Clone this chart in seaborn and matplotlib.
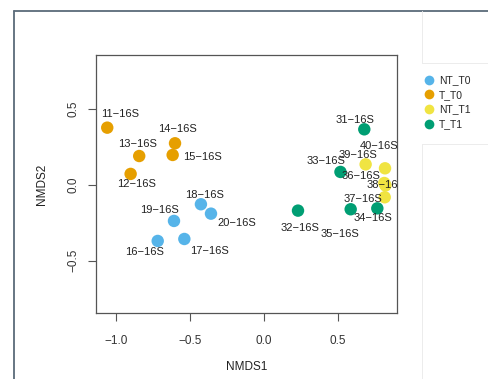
import matplotlib
matplotlib.use("Agg")
import matplotlib.pyplot as plt
from matplotlib.lines import Line2D
import seaborn as sns
import pandas as pd

# NMDS site scores
samples = ["11-16S", "12-16S", "13-16S", "14-16S", "15-16S",
           "16-16S", "17-16S", "18-16S", "19-16S", "20-16S",
           "31-16S", "32-16S", "33-16S", "34-16S", "35-16S",
           "36-16S", "37-16S", "38-16S", "39-16S", "40-16S"]
groups = ["T_T0"] * 5 + ["NT_T0"] * 5 + ["T_T1"] * 5 + ["NT_T1"] * 5
nmds1 = [-1.057, -0.899, -0.841, -0.599, -0.615,
         -0.716, -0.536, -0.424, -0.606, -0.356,
         0.680, 0.232, 0.519, 0.768, 0.588,
         0.815, 0.818, 0.823, 0.689, 0.820]
nmds2 = [0.377, 0.072, 0.190, 0.274, 0.197,
         -0.370, -0.357, -0.128, -0.238, -0.190,
         0.366, -0.170, 0.085, -0.155, -0.161,
         0.012, -0.082, -0.004, 0.135, 0.109]
group_order = ["NT_T0", "T_T0", "NT_T1", "T_T1"]
group_colors = ["#56B4E9", "#E69F00", "#F0E442", "#009E73"]

# label placement relative to each point, in pixels (x right, y down)
label_offsets = {
    "11-16S": (13, -14), "12-16S": (6, 10), "13-16S": (-2, -12),
    "14-16S": (2, -14), "15-16S": (30, 2), "16-16S": (-13, 11),
    "17-16S": (25, 12), "18-16S": (4, -9), "19-16S": (-15, -11),
    "20-16S": (26, 9), "31-16S": (-9, -9), "32-16S": (2, 17),
    "33-16S": (-14, -11), "34-16S": (-4, 10), "35-16S": (-11, 25),
    "36-16S": (-23, -7), "37-16S": (-22, 2), "38-16S": (1, 0),
    "39-16S": (-8, -9), "40-16S": (-6, -22),
}

df = pd.DataFrame({"sample": samples, "group": groups,
                   "NMDS1": nmds1, "NMDS2": nmds2})

sns.set_style("white")
plt.rcParams["font.family"] = ["Liberation Sans", "DejaVu Sans"]

W, H = 488, 379
fig = plt.figure(figsize=(W / 100, H / 100), dpi=100)
fig.patch.set_facecolor("white")

# window frame lines
fig.add_artist(Line2D([14 / W, 1], [1 - 11 / H] * 2, color="#5b6b7a", lw=1.3))
fig.add_artist(Line2D([14 / W] * 2, [0, 1 - 11 / H], color="#5b6b7a", lw=1.3))
light = "#ececec"
fig.add_artist(Line2D([422 / W] * 2, [1 - 11 / H, 1 - 63 / H], color=light, lw=0.7))
fig.add_artist(Line2D([422 / W, 1], [1 - 63 / H] * 2, color=light, lw=0.7))
fig.add_artist(Line2D([422 / W] * 2, [1 - 144 / H, 0], color=light, lw=0.7))
fig.add_artist(Line2D([422 / W, 1], [1 - 144 / H] * 2, color=light, lw=0.7))

left, right, top, bottom = 96, 397, 55, 313
ax = fig.add_axes([left / W, 1 - bottom / H, (right - left) / W, (bottom - top) / H])

sns.scatterplot(data=df, x="NMDS1", y="NMDS2", hue="group",
                hue_order=group_order, palette=group_colors,
                s=80, linewidth=0, ax=ax, legend=False, zorder=3)

for name, x, y in zip(samples, nmds1, nmds2):
    dx, dy = label_offsets[name]
    ax.annotate(name.replace("-", "\u2212"), (x, y), xytext=(dx, -dy),
                textcoords="offset pixels", ha="center", va="center",
                fontsize=8, color="#222222", clip_on=True, zorder=4,
                annotation_clip=True)

ax.set_xlim(-1.133, 0.901)
ax.set_ylim(-0.845, 0.856)
ax.set_xticks([-1.0, -0.5, 0.0, 0.5])
ax.set_yticks([-0.5, 0.0, 0.5])
ax.set_xticklabels(["\u22121.0", "\u22120.5", "0.0", "0.5"])
ax.set_yticklabels(["\u22120.5", "0.0", "0.5"], rotation=90, va="center")
ax.tick_params(axis="both", direction="out", length=6, width=0.8,
               color="#555555", labelsize=8.5, labelcolor="#333333",
               bottom=True, left=True)
ax.tick_params(axis="x", pad=10)
ax.tick_params(axis="y", pad=6)
for sp in ax.spines.values():
    sp.set_color("#555555")
    sp.set_linewidth(0.9)
ax.set_xlabel("NMDS1", fontsize=8.5, color="#222222", labelpad=10)
ax.set_ylabel("NMDS2", fontsize=8.5, color="#222222", labelpad=14)

handles = [Line2D([], [], marker="o", linestyle="", markersize=7,
                  markerfacecolor=c, markeredgewidth=0) for c in group_colors]
fig.legend(handles, group_order, loc="upper left",
           bbox_to_anchor=(419 / W, 1 - 71 / H), frameon=False,
           fontsize=7.5, handletextpad=0.3, labelspacing=0.45,
           handlelength=1.2, borderaxespad=0)

fig.savefig("out.png", dpi=100)
